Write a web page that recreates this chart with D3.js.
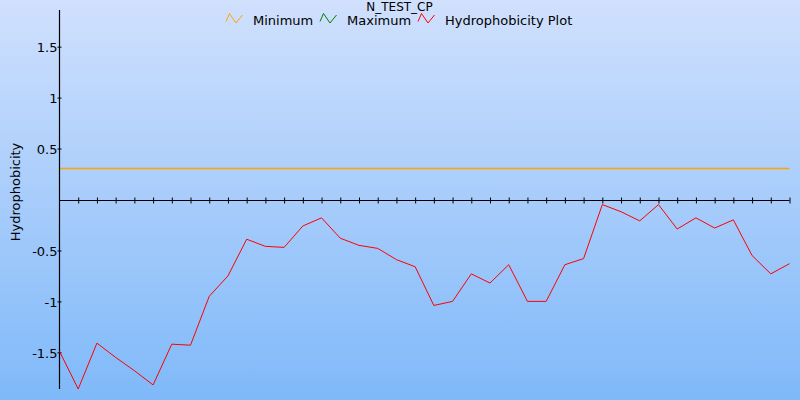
<!DOCTYPE html>
<html>
<head>
<meta charset="utf-8">
<script src="https://cdn.jsdelivr.net/npm/d3@7/dist/d3.min.js"></script>
<style>
  html, body { margin: 0; padding: 0; }
  svg { display: block; font-family: "DejaVu Sans", Verdana, sans-serif; }
</style>
</head>
<body>
<svg id="chart" width="800" height="400"></svg>
<script>
const titleText = "N_TEST_CP";
const yTitle = "Hydrophobicity";
const positions = d3.range(0, 40);
const hydrophobicity = [
  -1.49, -1.86, -1.41, -1.55, -1.68, -1.82, -1.42, -1.43, -0.95, -0.75,
  -0.39, -0.46, -0.47, -0.26, -0.18, -0.38, -0.45, -0.48, -0.59, -0.66,
  -1.04, -1.00, -0.73, -0.82, -0.64, -1.00, -1.00, -0.64, -0.58, -0.05,
  -0.12, -0.21, -0.05, -0.29, -0.18, -0.28, -0.20, -0.55, -0.73, -0.63
];
const minimumValue = 0.3;
const maximumValue = null; // not visible in the plotted range
const yTicks = [-1.5, -1, -0.5, 0.5, 1, 1.5];
const yTickLabels = ["-1.5", "-1", "-0.5", "0.5", "1", "1.5"];
const xTicks = d3.range(1, 40);
const legendItems = [
  { label: "Minimum", color: "#ffa500" },
  { label: "Maximum", color: "#008000" },
  { label: "Hydrophobicity Plot", color: "#ff0000" }
];

const svg = d3.select("#chart");
const W = 800, H = 400;

const defs = svg.append("defs");
const grad = defs.append("linearGradient").attr("id", "bg").attr("x1", 0).attr("y1", 0).attr("x2", 0).attr("y2", 1);
grad.append("stop").attr("offset", "0%").attr("stop-color", "#d0e0fd");
grad.append("stop").attr("offset", "100%").attr("stop-color", "#7fb9f9");
svg.append("rect").attr("width", W).attr("height", H).attr("fill", "url(#bg)");

const x = d3.scaleLinear().domain([0, 39]).range([59.5, 789.5]);
const y = d3.scaleLinear().domain([-1.86, 1.86]).range([389, 10]);

// Title
svg.append("text").attr("x", 399.5).attr("y", 11.3).attr("text-anchor", "middle")
  .attr("font-size", 12).attr("fill", "#000").text(titleText);

// Legend
const legendX = [226, 320, 418];
legendItems.forEach((d, i) => {
  const lx = legendX[i];
  svg.append("path")
    .attr("d", `M${lx},21.5 L${lx + 3.5},13.5 L${lx + 10},23 L${lx + 16.5},15`)
    .attr("fill", "none").attr("stroke", d.color).attr("stroke-width", 1);
  svg.append("text").attr("x", lx + 27).attr("y", 25.3).attr("font-size", 13)
    .attr("fill", "#000").text(d.label);
});

// Y axis title
svg.append("text").attr("transform", "translate(20,192) rotate(-90)")
  .attr("text-anchor", "middle").attr("font-size", 13).attr("fill", "#000").text(yTitle);

// Minimum line (drawn from data across all positions)
const minLine = d3.line().x(d => x(d)).y(() => Math.round(y(minimumValue)) - 0.5);
svg.append("path").datum([positions[0], positions[positions.length - 1]])
  .attr("d", minLine)
  .attr("fill", "none").attr("stroke", "#ffa500").attr("stroke-width", 1.6);

// Y axis
const yAxis = d3.axisLeft(y).tickValues(yTicks).tickSize(0)
  .tickFormat((d, i) => yTickLabels[i]);
const gy = svg.append("g").attr("transform", `translate(59.5,0)`).call(yAxis);
gy.select(".domain").remove();
gy.selectAll(".tick text").attr("x", -2).attr("font-size", 13).attr("fill", "#000")
  .attr("font-family", "DejaVu Sans, Verdana, sans-serif").attr("dy", "0.36em");
gy.selectAll(".tick").append("line").attr("x1", -2).attr("x2", 2).attr("stroke", "#000");
svg.append("line").attr("x1", 59.5).attr("x2", 59.5).attr("y1", 10).attr("y2", 389)
  .attr("stroke", "#000").attr("stroke-width", 1.2);

// X axis at zero
const xAxis = d3.axisBottom(x).tickValues(xTicks).tickSize(0).tickFormat("");
const gx = svg.append("g").attr("transform", `translate(0,${Math.round(y(0)) + 0.5})`).call(xAxis);
gx.select(".domain").remove();
gx.selectAll(".tick line").attr("y1", -3).attr("y2", 3).attr("stroke", "#000");
svg.append("line").attr("x1", x(0)).attr("x2", x(39))
  .attr("y1", Math.round(y(0)) + 0.5).attr("y2", Math.round(y(0)) + 0.5)
  .attr("stroke", "#000").attr("stroke-width", 1.2);

// Hydrophobicity line
const line = d3.line().x((d, i) => x(positions[i])).y(d => y(d));
svg.append("path").datum(hydrophobicity).attr("d", line)
  .attr("fill", "none").attr("stroke", "#ff0000").attr("stroke-width", 1);
</script>
</body>
</html>
